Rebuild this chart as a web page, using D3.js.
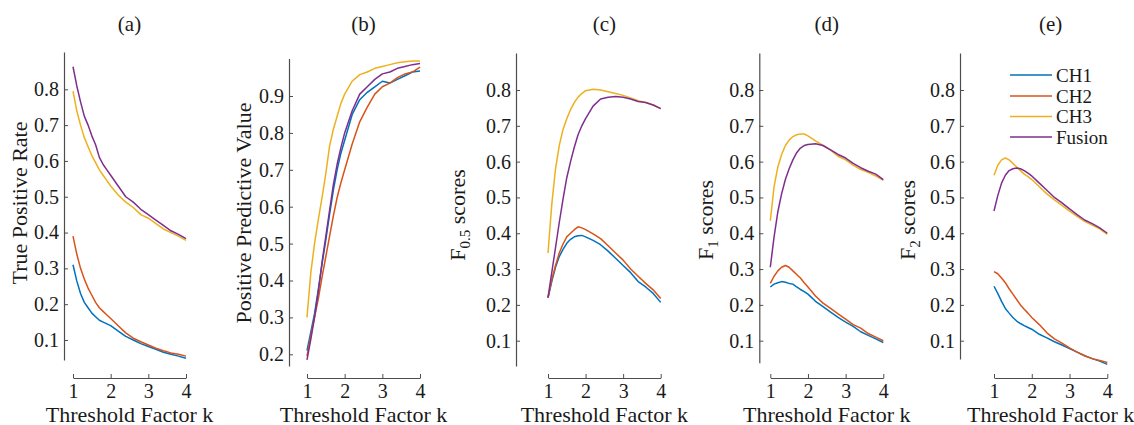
<!DOCTYPE html>
<html><head><meta charset="utf-8">
<script src="https://cdn.jsdelivr.net/npm/d3@7"></script>
<style>
html,body{margin:0;padding:0;background:#fff;}
svg{display:block;font-family:"Liberation Serif","Times New Roman",serif;}
</style></head>
<body><svg id="c" width="1134" height="425"></svg>
<script>
// ---------- data ----------
const k = [1,1.1,1.2,1.3,1.4,1.5,1.6,1.7,1.8,1.9,2.0,2.2,2.4,2.6,2.8,3.0,3.2,3.4,3.6,3.8,4.0];
const seriesNames = ["CH1","CH2","CH3","Fusion"];
const xTicks = [1,2,3,4];
const yTicksA = [0.1,0.2,0.3,0.4,0.5,0.6,0.7,0.8];
const yTicksB = [0.2,0.3,0.4,0.5,0.6,0.7,0.8,0.9];
const panelTitles = ["(a)","(b)","(c)","(d)","(e)"];
const xLabel = "Threshold Factor k";

// (a) True Positive Rate
const tprCH1 = [0.31,0.265,0.23,0.205,0.19,0.175,0.165,0.155,0.15,0.145,0.14,0.125,0.11,0.10,0.09,0.082,0.074,0.066,0.06,0.055,0.049];
const tprCH2 = [0.39,0.34,0.30,0.27,0.245,0.225,0.205,0.19,0.18,0.17,0.16,0.14,0.12,0.105,0.095,0.086,0.077,0.07,0.064,0.06,0.055];
const tprCH3 = [0.795,0.74,0.70,0.665,0.64,0.615,0.595,0.575,0.56,0.545,0.53,0.505,0.485,0.47,0.45,0.44,0.425,0.41,0.40,0.39,0.378];
const tprFusion = [0.863,0.81,0.765,0.725,0.70,0.67,0.645,0.61,0.59,0.575,0.56,0.53,0.50,0.485,0.465,0.45,0.435,0.42,0.405,0.395,0.383];
// (b) Positive Predictive Value
const ppvCH1 = [0.21,0.26,0.31,0.375,0.445,0.51,0.58,0.645,0.70,0.745,0.78,0.85,0.89,0.91,0.925,0.94,0.935,0.945,0.955,0.965,0.968];
const ppvCH2 = [0.195,0.25,0.30,0.35,0.41,0.465,0.52,0.575,0.625,0.665,0.70,0.77,0.83,0.87,0.905,0.925,0.935,0.95,0.96,0.965,0.978];
const ppvCH3 = [0.30,0.42,0.50,0.565,0.625,0.69,0.765,0.81,0.845,0.88,0.905,0.94,0.958,0.965,0.975,0.98,0.985,0.99,0.993,0.995,0.995];
const ppvFusion = [0.185,0.24,0.30,0.37,0.45,0.52,0.59,0.66,0.715,0.76,0.80,0.86,0.905,0.925,0.945,0.96,0.965,0.975,0.98,0.985,0.988];
// (c) F0.5
const f05CH1 = [0.22,0.265,0.305,0.335,0.355,0.372,0.383,0.39,0.393,0.394,0.39,0.38,0.368,0.35,0.33,0.31,0.29,0.265,0.25,0.232,0.207];
const f05CH2 = [0.22,0.27,0.31,0.345,0.37,0.39,0.40,0.41,0.418,0.415,0.41,0.398,0.385,0.365,0.345,0.325,0.30,0.28,0.26,0.242,0.218];
const f05CH3 = [0.345,0.48,0.58,0.645,0.69,0.72,0.745,0.765,0.78,0.79,0.798,0.802,0.80,0.795,0.79,0.785,0.778,0.77,0.765,0.758,0.748];
const f05Fusion = [0.22,0.29,0.36,0.43,0.495,0.555,0.60,0.64,0.675,0.70,0.72,0.755,0.775,0.78,0.782,0.78,0.775,0.768,0.765,0.758,0.748];
// (d) F1
const f1CH1 = [0.25,0.258,0.262,0.265,0.263,0.26,0.258,0.25,0.243,0.237,0.23,0.21,0.195,0.18,0.165,0.152,0.14,0.125,0.115,0.105,0.095];
const f1CH2 = [0.26,0.28,0.295,0.305,0.31,0.305,0.295,0.285,0.275,0.262,0.25,0.225,0.205,0.19,0.175,0.16,0.145,0.135,0.12,0.11,0.10];
const f1CH3 = [0.435,0.53,0.585,0.62,0.645,0.66,0.67,0.675,0.677,0.677,0.672,0.658,0.645,0.632,0.615,0.605,0.59,0.578,0.57,0.56,0.548];
const f1Fusion = [0.305,0.39,0.46,0.51,0.55,0.58,0.605,0.625,0.638,0.645,0.648,0.65,0.645,0.633,0.62,0.61,0.595,0.583,0.573,0.565,0.55];
// (e) F2
const f2CH1 = [0.252,0.232,0.21,0.19,0.177,0.165,0.155,0.148,0.142,0.137,0.132,0.118,0.108,0.097,0.088,0.078,0.068,0.058,0.05,0.043,0.034];
const f2CH2 = [0.293,0.287,0.275,0.262,0.245,0.23,0.215,0.20,0.188,0.177,0.165,0.145,0.122,0.105,0.093,0.08,0.068,0.058,0.05,0.045,0.039];
const f2CH3 = [0.562,0.59,0.605,0.61,0.605,0.595,0.585,0.575,0.565,0.558,0.55,0.53,0.51,0.493,0.478,0.462,0.447,0.433,0.423,0.412,0.397];
const f2Fusion = [0.462,0.505,0.54,0.562,0.575,0.58,0.582,0.58,0.575,0.568,0.56,0.54,0.52,0.50,0.485,0.468,0.452,0.437,0.427,0.415,0.40];

// ---------- layout / style ----------
const colors = ["#0072BD","#D95319","#EDB120","#7E2F8E"];
const axisColor = "#4d4d4d";
const panels = [
  {title:panelTitles[0], series:[tprCH1,tprCH2,tprCH3,tprFusion], ticks:yTicksA, yLabel:["True Positive Rate"],
   axX:64, xr:[73,186], t0:[0.1,340], t1:[0.8,89.3], yTop:52, yBot:360, labX:27, labY:203},
  {title:panelTitles[1], series:[ppvCH1,ppvCH2,ppvCH3,ppvFusion], ticks:yTicksB, yLabel:["Positive Predictive Value"],
   axX:289, xr:[307,420], t0:[0.2,354.3], t1:[0.9,96], yTop:58.5, yBot:366, labX:251, labY:213},
  {title:panelTitles[2], series:[f05CH1,f05CH2,f05CH3,f05Fusion], ticks:yTicksA, yLabel:["F","0.5"," scores"],
   axX:516, xr:[548,660.7], t0:[0.1,340.7], t1:[0.8,90], yTop:53, yBot:366, labX:465, labY:215},
  {title:panelTitles[3], series:[f1CH1,f1CH2,f1CH3,f1Fusion], ticks:yTicksA, yLabel:["F","1"," scores"],
   axX:759.3, xr:[770.3,883.3], t0:[0.1,340.7], t1:[0.8,90], yTop:53, yBot:362.7, labX:713, labY:220},
  {title:panelTitles[4], series:[f2CH1,f2CH2,f2CH3,f2Fusion], ticks:yTicksA, yLabel:["F","2"," scores"],
   axX:960, xr:[994,1107.3], t0:[0.1,340.7], t1:[0.8,90], yTop:53, yBot:359, labX:915, labY:220, legend:true}
];
const xAxisY = 378;

const svg = d3.select("#c");

panels.forEach(p => {
  const g = svg.append("g");
  const x = d3.scaleLinear().domain([1,4]).range(p.xr);
  const yt = d3.scaleLinear().domain([p.t0[0], p.t1[0]]).range([p.t0[1], p.t1[1]]);
  const y = d3.scaleLinear().domain([yt.invert(p.yBot), yt.invert(p.yTop)]).range([p.yBot, p.yTop]);

  const ya = g.append("g").attr("transform", `translate(${p.axX},0)`)
    .call(d3.axisLeft(y).tickValues(p.ticks).tickFormat(d3.format(".1f")).tickSizeInner(-4).tickSizeOuter(0).tickPadding(5));
  const xa = g.append("g").attr("transform", `translate(0,${xAxisY})`)
    .call(d3.axisBottom(x).tickValues(xTicks).tickFormat(d3.format("d")).tickSizeInner(-4).tickSizeOuter(0).tickPadding(6));
  [ya, xa].forEach(a => {
    a.select(".domain").attr("stroke", axisColor).attr("stroke-width", 1.2);
    a.selectAll(".tick line").attr("stroke", axisColor).attr("stroke-width", 1);
    a.selectAll(".tick text").attr("fill", "#1a1a1a").style("font-size", "20px")
      .style("font-family", '"Liberation Serif","Times New Roman",serif');
  });

  const line = d3.line().x((d,i) => x(k[i])).y(d => y(d));
  p.series.forEach((s, si) => {
    g.append("path").datum(s).attr("d", line).attr("fill", "none")
      .attr("stroke", colors[si]).attr("stroke-width", 1.5).attr("stroke-linejoin", "round");
  });

  g.append("text").attr("x", (p.xr[0]+p.xr[1])/2).attr("y", 31).attr("text-anchor", "middle")
    .style("font-size", "21px").attr("fill", "#1a1a1a").text(p.title);
  g.append("text").attr("x", (p.xr[0]+p.xr[1])/2).attr("y", 421.5).attr("text-anchor", "middle")
    .style("font-size", "22px").attr("fill", "#1a1a1a").text(xLabel);
  const yl = g.append("text").attr("transform", `translate(${p.labX},${p.labY}) rotate(-90)`)
    .attr("text-anchor", "middle").style("font-size", "22px").attr("fill", "#1a1a1a");
  if (p.yLabel.length === 1) {
    yl.text(p.yLabel[0]);
  } else {
    yl.append("tspan").text(p.yLabel[0]);
    yl.append("tspan").attr("dy", 5).style("font-size", "15px").text(p.yLabel[1]);
    yl.append("tspan").attr("dy", -5).text(p.yLabel[2]);
  }

  if (p.legend) {
    const lg = g.append("g");
    const rows = [75, 96, 116.5, 137];
    seriesNames.forEach((n, i) => {
      lg.append("line").attr("x1", 1010).attr("x2", 1052).attr("y1", rows[i]).attr("y2", rows[i])
        .attr("stroke", colors[i]).attr("stroke-width", 1.5);
      lg.append("text").attr("x", 1056).attr("y", rows[i]).attr("dy", "0.35em")
        .style("font-size", "19px").attr("fill", "#1a1a1a").text(n);
    });
  }
});
</script></body></html>
